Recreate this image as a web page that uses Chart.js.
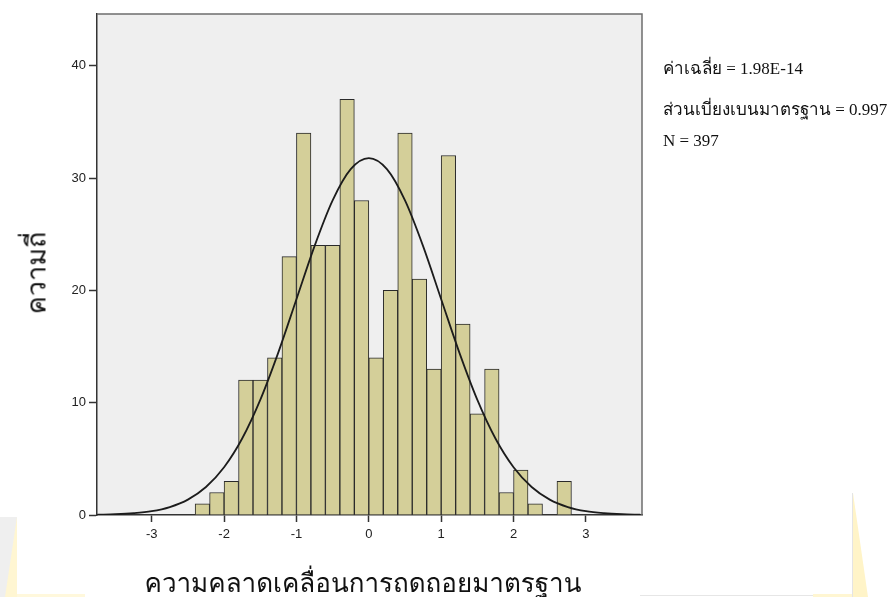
<!DOCTYPE html>
<html>
<head>
<meta charset="utf-8">
<script src="https://cdn.jsdelivr.net/npm/chart.js@4/dist/chart.umd.min.js"></script>
<style>
  html, body { margin: 0; padding: 0; background: #ffffff; }
  #wrap { position: relative; width: 889px; height: 597px; overflow: hidden; background: #ffffff; }
  #c { position: absolute; left: 0; top: 0; }
  .deco { position: absolute; }
  #ytitle {
    position: absolute; left: 36px; top: 273px;
    transform: translate(-50%, -50%) rotate(-90deg);
    font-family: "Loma", "Garuda", "Tlwg Typo", "Noto Sans Thai", "Noto Sans", sans-serif;
    font-size: 27px; line-height: 27px; white-space: nowrap; color: #111;
  }
  #xtitle {
    position: absolute; left: 363px; top: 570px;
    transform: translateX(-50%);
    font-family: "Loma", "Garuda", "Tlwg Typo", "Noto Sans Thai", "Noto Sans", sans-serif;
    font-size: 26px; line-height: 26px; white-space: nowrap; color: #111;
  }
  .stat {
    position: absolute; left: 663px;
    font-family: "Liberation Serif", "Times New Roman", "Norasi", "Kinnari", serif;
    font-size: 17px; line-height: 17px; white-space: nowrap; color: #111;
  }
</style>
</head>
<body>
<div id="wrap">
  <!-- faint page marks along the bottom edge -->
  <div class="deco" style="left:0;top:517px;width:17px;height:80px;background:#efefef;"></div>
  <div class="deco" style="left:5px;top:517px;width:12px;height:80px;background:#fff6d2;clip-path:polygon(100% 0,100% 100%,0 100%);"></div>
  <div class="deco" style="left:17px;top:594px;width:68px;height:3px;background:#fff8dc;"></div>
  <div class="deco" style="left:640px;top:595px;width:173px;height:1px;background:#e6e6e6;"></div>
  <div class="deco" style="left:813px;top:594px;width:40px;height:3px;background:#fff6d2;"></div>
  <div class="deco" style="left:852px;top:493px;width:1px;height:104px;background:#e4e4e4;"></div>
  <div class="deco" style="left:853px;top:493px;width:15px;height:104px;background:#fff4c8;clip-path:polygon(0 0,100% 100%,0 100%);"></div>

  <canvas id="c" width="889" height="597"></canvas>
  <div id="ytitle"></div>
  <div id="xtitle"></div>
</div>
<script>
// Histogram of standardized regression residuals
const binWidth = 0.2;
const binStarts = [-2.4, -2.2, -2.0, -1.8, -1.6, -1.4, -1.2, -1.0, -0.8, -0.6, -0.4, -0.2,
                   0.0, 0.2, 0.4, 0.6, 0.8, 1.0, 1.2, 1.4, 1.6, 1.8, 2.0, 2.2, 2.4, 2.6];
const binCounts = [1, 2, 3, 12, 12, 14, 23, 34, 24, 24, 37, 28,
                   14, 20, 34, 21, 13, 32, 17, 9, 13, 2, 4, 1, 0, 3];

// Normal curve overlay (frequency scale)
const curveX = [-3.75, -3.5, -3.25, -3.0, -2.75, -2.5, -2.25, -2.0, -1.75, -1.5, -1.25, -1.0,
                -0.75, -0.5, -0.25, 0.0, 0.25, 0.5, 0.75, 1.0, 1.25, 1.5, 1.75, 2.0,
                2.25, 2.5, 2.75, 3.0, 3.25, 3.5, 3.75];
const curveY = [0.03, 0.07, 0.16, 0.34, 0.71, 1.37, 2.49, 4.25, 6.81, 10.25, 14.48, 19.21,
                23.94, 28.01, 30.79, 31.77, 30.79, 28.01, 23.94, 19.21, 14.48, 10.25, 6.81, 4.25,
                2.49, 1.37, 0.71, 0.34, 0.16, 0.07, 0.03];

const xTickValues = [-3, -2, -1, 0, 1, 2, 3];
const yTickValues = [0, 10, 20, 30, 40];

const xAxisTitle = 'ความคลาดเคลื่อนการถดถอยมาตรฐาน';
const yAxisTitle = 'ความถี่';
const statLines = ['ค่าเฉลี่ย = 1.98E-14', 'ส่วนเบี่ยงเบนมาตรฐาน = 0.997', 'N = 397'];

document.getElementById('xtitle').textContent = xAxisTitle;
document.getElementById('ytitle').textContent = yAxisTitle;
const statTops = [60, 101, 132];
statLines.forEach((t, i) => {
  const d = document.createElement('div');
  d.className = 'stat';
  d.style.top = statTops[i] + 'px';
  d.textContent = t;
  document.getElementById('wrap').appendChild(d);
});

// plot panel: grey fill behind the marks, thin frame on top and right
const plotFrame = {
  id: 'plotFrame',
  beforeDraw(chart) {
    const a = chart.chartArea, ctx = chart.ctx;
    ctx.save();
    ctx.fillStyle = '#efefef';
    ctx.fillRect(a.left, a.top, a.right - a.left, a.bottom - a.top);
    ctx.restore();
  },
  afterDraw(chart) {
    const a = chart.chartArea, ctx = chart.ctx;
    ctx.save();
    ctx.strokeStyle = '#6e6e6e';
    ctx.lineWidth = 1.5;
    ctx.beginPath();
    ctx.moveTo(a.left, a.top);
    ctx.lineTo(a.right, a.top);
    ctx.lineTo(a.right, a.bottom);
    ctx.stroke();
    ctx.restore();
  }
};

const tickFont = { family: '"Liberation Sans", Arial, sans-serif', size: 13 };

new Chart(document.getElementById('c'), {
  type: 'bar',
  data: {
    datasets: [
      {
        type: 'line',
        data: curveX.map((x, i) => ({ x: x, y: curveY[i] })),
        borderColor: '#1c1c1c',
        borderWidth: 1.8,
        pointRadius: 0,
        fill: false,
        cubicInterpolationMode: 'monotone',
        order: 1
      },
      {
        type: 'bar',
        data: binStarts.map((s, i) => ({ x: s + binWidth / 2, y: binCounts[i] })),
        backgroundColor: '#d4cf99',
        borderColor: '#2a2a2a',
        borderWidth: 1,
        barPercentage: 1,
        categoryPercentage: 1,
        order: 2
      }
    ]
  },
  options: {
    responsive: false,
    animation: false,
    events: [],
    layout: { padding: { top: 14, right: 247, left: 0, bottom: 0 } },
    plugins: { legend: { display: false }, tooltip: { enabled: false } },
    scales: {
      x: {
        type: 'linear',
        min: -3.756,
        max: 3.775,
        offset: false,
        z: 1,
        afterBuildTicks: s => { s.ticks = xTickValues.map(v => ({ value: v })); },
        afterFit: s => { s.height = 82; },
        ticks: { font: tickFont, color: '#222', padding: 5, maxRotation: 0, callback: v => String(v) },
        grid: { display: true, offset: false, drawOnChartArea: false, drawTicks: true, tickLength: 7, color: '#333', tickWidth: 1.5 },
        border: { display: true, color: '#333', width: 1.5 }
      },
      y: {
        type: 'linear',
        min: 0,
        max: 44.6,
        z: 1,
        afterBuildTicks: s => { s.ticks = yTickValues.map(v => ({ value: v })); },
        afterFit: s => { s.width = 97; },
        ticks: { font: tickFont, color: '#222', padding: 3, callback: v => String(v) },
        grid: { display: true, drawOnChartArea: false, drawTicks: true, tickLength: 8, color: '#333', tickWidth: 1.5 },
        border: { display: true, color: '#333', width: 1.5 }
      }
    }
  },
  plugins: [plotFrame]
});
</script>
</body>
</html>
